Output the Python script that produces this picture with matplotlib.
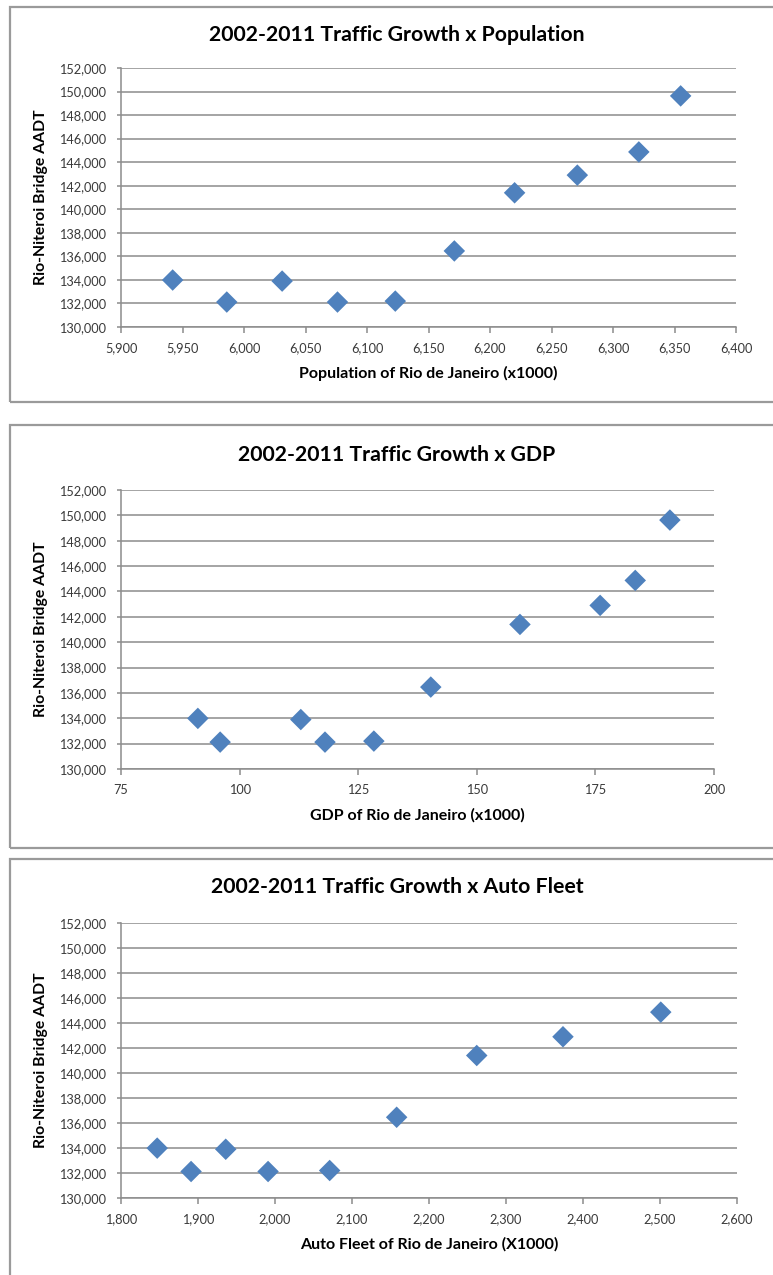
import matplotlib
matplotlib.use('Agg')
import matplotlib.pyplot as plt
from matplotlib.patches import Rectangle
from matplotlib.ticker import FuncFormatter, MultipleLocator

plt.rcParams['font.family'] = ['Lato', 'DejaVu Sans']

# yearly values 2002-2011
aadt = [133990, 132120, 133900, 132120, 132200, 136460, 141400, 142900, 144870, 149630]
population = [5942, 5986, 6031, 6076, 6123, 6171, 6220, 6271, 6321, 6355]
gdp = [91.2, 95.9, 112.9, 118.0, 128.3, 140.3, 159.1, 176.0, 183.4, 190.7]
auto_fleet = [1847, 1891, 1936, 1991, 2071, 2158, 2262, 2374, 2501]

titles = ['2002-2011 Traffic Growth x Population',
          '2002-2011 Traffic Growth x GDP',
          '2002-2011 Traffic Growth x Auto Fleet']
xlabels = ['Population of Rio de Janeiro (x1000)',
           'GDP of Rio de Janeiro (x1000)',
           'Auto Fleet of Rio de Janeiro (X1000)']
ylabel = 'Rio-Niteroi Bridge AADT'

W, H = 773, 1275
fig = plt.figure(figsize=(W / 100, H / 100), dpi=100)

def px_box(left, top, right, bottom):
    return [left / W, 1 - bottom / H, (right - left) / W, (bottom - top) / H]

# pixel boxes for each chart: axes, frame, title y
layout = [
    dict(ax=(121, 68, 736, 327), frame=(10, 7, 790, 402), title_y=35,
         xlim=(5900, 6400), xstep=50, xs=population, ys=aadt),
    dict(ax=(121, 490, 714, 769), frame=(10, 425, 790, 848), title_y=455,
         xlim=(75, 200), xstep=25, xs=gdp, ys=aadt),
    dict(ax=(121, 923, 737, 1198), frame=(10, 859, 790, 1290), title_y=887,
         xlim=(1800, 2600), xstep=100, xs=auto_fleet, ys=aadt[:len(auto_fleet)]),
]

grey = '#8c8c8c'
label_col = '#3a3a3a'
comma = FuncFormatter(lambda v, p: f'{v:,.0f}')

for i, L in enumerate(layout):
    fl, ft, fr, fb = L['frame']
    fig.patches.append(Rectangle((fl / W, 1 - fb / H), (fr - fl) / W, (fb - ft) / H,
                                 transform=fig.transFigure, fill=False,
                                 edgecolor='#9a9a9a', lw=1.6))
    fig.text(397 / W, 1 - L['title_y'] / H, titles[i], ha='center', va='center',
             fontsize=15.3, fontweight='bold', color='black')

    left, top, right, bottom = L['ax']
    ax = fig.add_axes(px_box(left, top, right, bottom))
    ax.scatter(L['xs'], L['ys'], marker='D', s=120, color='#4F81BD', zorder=3,
               edgecolors='none')
    ax.set_xlim(*L['xlim'])
    ax.set_ylim(130000, 152000)
    ax.xaxis.set_major_locator(MultipleLocator(L['xstep']))
    ax.yaxis.set_major_locator(MultipleLocator(2000))
    ax.xaxis.set_major_formatter(comma)
    ax.yaxis.set_major_formatter(comma)
    ax.grid(axis='y', color=grey, lw=1.1)
    ax.set_axisbelow(True)
    for s in ['top', 'right']:
        ax.spines[s].set_visible(False)
    for s in ['left', 'bottom']:
        ax.spines[s].set_color(grey)
        ax.spines[s].set_linewidth(1.1)
    ax.tick_params(axis='x', direction='out', length=4, width=1.1, color=grey,
                   labelsize=9.2, labelcolor=label_col, pad=7)
    ax.tick_params(axis='y', direction='out', length=3, width=1.1, color=grey,
                   labelsize=9.2, labelcolor=label_col, pad=8)

    axh = bottom - top
    axw = right - left
    ax.set_xlabel(xlabels[i], fontsize=11.5, fontweight='bold', va='center')
    ax.xaxis.set_label_coords(0.5, -46 / axh)
    ax.set_ylabel(ylabel, fontsize=11.3, fontweight='bold', va='center')
    ax.yaxis.set_label_coords((41 - left) / axw, 0.5)

fig.savefig('out.png', dpi=100, facecolor='white')
